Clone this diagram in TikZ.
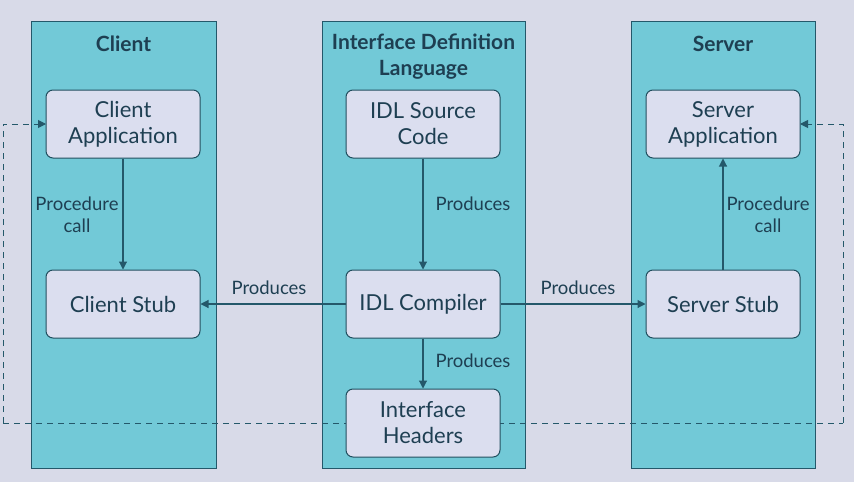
\documentclass[tikz,border=0pt]{standalone}
\usepackage{fontspec}
\setmainfont{Lato}
\usetikzlibrary{arrows.meta,positioning}
\definecolor{bgc}{HTML}{D8DAE8}
\definecolor{colfill}{HTML}{72C9D7}
\definecolor{colline}{HTML}{24586A}
\definecolor{boxfill}{HTML}{DBDEEF}
\definecolor{txt}{HTML}{1E3F52}
\tikzset{
  column/.style={draw=colline, line width=1pt, fill=colfill},
  box/.style={draw=colline!90!black, line width=1pt, fill=boxfill, rounded corners=7pt,
    minimum width=154pt, minimum height=68pt, align=center, text=txt,
    font=\fontsize{22}{26}\selectfont, inner sep=0pt},
  title/.style={text=txt, font=\bfseries\fontsize{21}{26}\selectfont, align=center},
  lbl/.style={text=txt, font=\fontsize{18.5}{22}\selectfont, align=center, inner sep=0pt},
  arr/.style={draw=colline, line width=1.1pt, -{Triangle[length=8pt,width=8pt]}},
  dashline/.style={draw=colline, line width=1pt, dash pattern=on 6pt off 5pt}
}
\begin{document}
\begin{tikzpicture}[x=1pt,y=-1pt]
\fill[bgc] (0,0) rectangle (854,482);
\useasboundingbox (0,0) rectangle (854,482);
% columns
\draw[column] (31,21) rectangle (216,468);
\draw[column] (322,21) rectangle (525,468);
\draw[column] (631,21) rectangle (815,468);
\node[title] (tc) at (123.5,44) {Client};
\node[title] (ti) at (423.5,57) {Interface Definition\\Language};
\node[title] (ts) at (723,44) {Server};
% dashed return path
\coordinate (d1) at (3,124);
\coordinate (d2) at (3,423);
\coordinate (d3) at (843,423);
\coordinate (d4) at (843,124);
\draw[dashline, -{Triangle[length=8pt,width=8pt]}] (d2) -- (d1) -- (46,124);
\draw[dashline] (d2) -- (d3);
\draw[dashline, -{Triangle[length=8pt,width=8pt]}] (d3) -- (d4) -- (800,124);
% boxes
\node[box] (capp) at (123,124) {Client\\Application};
\node[box] (cstub) at (123,304) {Client Stub};
\node[box] (src) at (423,124) {IDL Source\\Code};
\node[box] (comp) at (423,304) {IDL Compiler};
\node[box] (hdr) at (423,423) {Interface\\Headers};
\node[box] (sapp) at (723,124) {Server\\Application};
\node[box] (sstub) at (723,304) {Server Stub};
% arrows
\draw[arr] (capp) -- (cstub);
\draw[arr] (src) -- (comp);
\draw[arr] (comp) -- (cstub);
\draw[arr] (comp) -- (sstub);
\draw[arr] (comp) -- (hdr);
\draw[arr] (sstub) -- (sapp);
% labels
\node[lbl] (l1) at (77,215) {Procedure\\call};
\node[lbl] (l2) at (473,204) {Produces};
\node[lbl] (l3) at (269,288) {Produces};
\node[lbl] (l4) at (578,288) {Produces};
\node[lbl] (l5) at (473,361) {Produces};
\node[lbl] (l6) at (768,215) {Procedure\\call};
\end{tikzpicture}
\end{document}
